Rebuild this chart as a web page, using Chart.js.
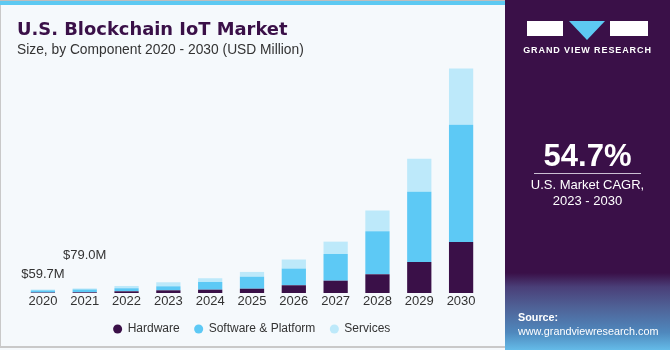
<!DOCTYPE html>
<html lang="en">
<head>
    <meta charset="UTF-8">
    <title>U.S. Blockchain IoT Market</title>
    <script src="https://cdn.jsdelivr.net/npm/chart.js"></script>
    <style>
        html, body { margin: 0; padding: 0; }
        body { width: 670px; height: 350px; position: relative; overflow: hidden; background: #f5f9fc; font-family: "Liberation Sans", Arial, sans-serif; }
        #frame { position: absolute; left: 0; top: 0; width: 669px; height: 348px; border-left: 1px solid #c9c9c9; border-bottom: 2px solid #c9c9c9; box-sizing: border-box; }
        #topbar { position: absolute; left: 0; top: 0; width: 506px; height: 5px; background: #5dc9f2; border-top: 1px solid #bdbdbd; box-sizing: border-box; }
        #title { position: absolute; left: 17px; top: 18px; font-family: "DejaVu Sans", sans-serif; font-weight: bold; font-size: 17.9px; color: #3a1048; white-space: nowrap; }
        #subtitle { position: absolute; left: 17px; top: 42px; font-size: 13.8px; color: #333; white-space: nowrap; }
        #chartWrap { position: absolute; left: 0; top: 0; width: 505px; height: 350px; }
        #panel { position: absolute; left: 505px; top: 0; width: 165px; height: 350px;
            background: linear-gradient(to bottom, #3a1048 0%, #3a1048 78%, #4a3f78 82%, #4f6398 88%, #4f88bd 95%, #64bbe8 100%); }
        .logo-g { position: absolute; left: 22px; top: 21px; width: 36px; height: 15px; background: #fff; }
        .logo-r { position: absolute; left: 105px; top: 21px; width: 38px; height: 15px; background: #fff; }
        .logo-v { position: absolute; left: 64px; top: 21px; width: 0; height: 0; border-left: 18px solid transparent; border-right: 18px solid transparent; border-top: 19px solid #5dc9f2; }
        #brand { position: absolute; left: 0; width: 165px; top: 45px; text-align: center; color: #fff; font-weight: bold; font-size: 9px; letter-spacing: 0.9px; }
        #cagr { position: absolute; left: 0; width: 165px; top: 138px; text-align: center; color: #fff; font-weight: bold; font-size: 31px; }
        #rule { position: absolute; left: 29px; width: 107px; top: 173px; height: 1px; background: #cbbfd3; }
        #cagrText { position: absolute; left: 0; width: 165px; top: 177px; text-align: center; color: #fff; font-size: 13px; line-height: 16px; }
        #source { position: absolute; left: 13px; top: 310px; color: #fff; font-size: 10.8px; line-height: 14px; }
    </style>
</head>
<body>
    <div id="chartWrap"><canvas id="marketChart" width="505" height="350"></canvas></div>
    <div id="frame"></div>
    <div id="topbar"></div>
    <div id="title">U.S. Blockchain IoT Market</div>
    <div id="subtitle">Size, by Component 2020 - 2030 (USD Million)</div>

    <div id="panel">
        <div class="logo-g"></div>
        <div class="logo-v"></div>
        <div class="logo-r"></div>
        <div id="brand">GRAND VIEW RESEARCH</div>
        <div id="cagr">54.7%</div>
        <div id="rule"></div>
        <div id="cagrText">U.S. Market CAGR,<br>2023 - 2030</div>
        <div id="source"><b>Source:</b><br>www.grandviewresearch.com</div>
    </div>

    <script>
        // values (USD Million)
        const years = ['2020', '2021', '2022', '2023', '2024', '2025', '2026', '2027', '2028', '2029', '2030'];
        const hardware = [8, 12, 30, 47, 58, 75, 135, 215, 327, 542, 892];
        const software = [38, 50, 53, 70, 135, 210, 292, 467, 752, 1225, 2048];
        const services = [13.7, 17, 40, 70, 65, 83, 158, 215, 362, 578, 980];
        const totalLabels = ['$59.7M', '$79.0M'];
        const labelLift = [15, 33];

        // labels above the first two bars
        const totalsPlugin = {
            id: 'totals',
            afterDatasetsDraw(chart) {
                const ctx = chart.ctx;
                const meta = chart.getDatasetMeta(2);
                ctx.save();
                ctx.font = '13px "Liberation Sans", Arial, sans-serif';
                ctx.fillStyle = '#333';
                ctx.textAlign = 'center';
                ctx.textBaseline = 'middle';
                totalLabels.forEach((txt, i) => {
                    const bar = meta.data[i];
                    ctx.fillText(txt, bar.x, bar.y - labelLift[i]);
                });
                ctx.restore();
            }
        };

        const ctx = document.getElementById('marketChart').getContext('2d');
        const chart = new Chart(ctx, {
            type: 'bar',
            data: {
                labels: years,
                datasets: [
                    { label: 'Hardware', data: hardware, backgroundColor: '#3a1048' },
                    { label: 'Software & Platform', data: software, backgroundColor: '#5dc9f5' },
                    { label: 'Services', data: services, backgroundColor: '#bde9fa' }
                ]
            },
            options: {
                responsive: false,
                animation: false,
                devicePixelRatio: 1,
                layout: { padding: { left: 22, right: 23, top: 64, bottom: 5 } },
                datasets: { bar: { barPercentage: 0.58, categoryPercentage: 1 } },
                scales: {
                    x: {
                        stacked: true,
                        grid: { display: false, drawTicks: false },
                        border: { display: false },
                        ticks: { color: '#333', font: { size: 13, lineHeight: 1, family: '"Liberation Sans", Arial, sans-serif' }, padding: 2 },
                        afterFit(scale) { scale.height = 15; }
                    },
                    y: { stacked: true, display: false, min: 0, max: 4000 }
                },
                plugins: {
                    legend: {
                        position: 'bottom',
                        labels: {
                            usePointStyle: true,
                            pointStyle: 'circle',
                            boxWidth: 8,
                            boxHeight: 6.4,
                            padding: 15,
                            color: '#333',
                            font: { size: 12, family: '"Liberation Sans", Arial, sans-serif' }
                        }
                    },
                    tooltip: { enabled: false }
                }
            },
            plugins: [totalsPlugin]
        });
    </script>
</body>
</html>
